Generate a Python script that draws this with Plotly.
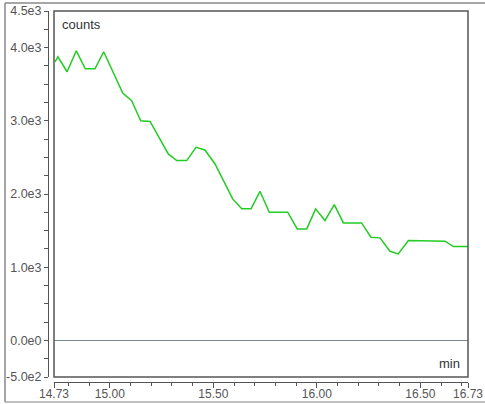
import plotly.graph_objects as go

times = [14.735, 14.749, 14.793, 14.838, 14.881, 14.928, 14.970, 15.015, 15.062, 15.105,
         15.149, 15.194, 15.237, 15.282, 15.323, 15.371, 15.416, 15.459, 15.508, 15.551,
         15.593, 15.637, 15.682, 15.725, 15.770, 15.815, 15.859, 15.905, 15.951, 15.994,
         16.039, 16.084, 16.128, 16.172, 16.216, 16.261, 16.305, 16.353, 16.393, 16.442,
         16.484, 16.527, 16.575, 16.619, 16.659, 16.701, 16.730]
counts = [3806, 3875, 3670, 3956, 3711, 3711, 3943, 3660, 3379, 3274,
          3001, 2992, 2770, 2547, 2456, 2456, 2637, 2601, 2410, 2170,
          1933, 1797, 1797, 2037, 1751, 1751, 1751, 1523, 1523, 1797,
          1637, 1855, 1605, 1605, 1605, 1410, 1401, 1218, 1182, 1364,
          1364, 1364, 1360, 1355, 1282, 1282, 1282]

x_tickvals = [14.73, 15.00, 15.50, 16.00, 16.50, 16.73]
x_ticktext = ["14.73", "15.00", "15.50", "16.00", "16.50", "16.73"]
y_tickvals = [4500, 4000, 3000, 2000, 1000, 0, -500]
y_ticktext = ["4.5e3", "4.0e3", "3.0e3", "2.0e3", "1.0e3", "0.0e0", "-5.0e2"]

W, H = 485, 404
ml, mr, mt, mb = 48, 17, 11, 22
pw = W - ml - mr
ph = H - mt - mb

fig = go.Figure()
fig.add_trace(go.Scatter(x=times, y=counts, mode="lines",
                         line=dict(color="#22cc22", width=1.5),
                         hoverinfo="skip", showlegend=False))

axfont = dict(family="Liberation Sans, Arial, sans-serif", size=12.5, color="#555555")
xfont = dict(family="Liberation Sans, Arial, sans-serif", size=12, color="#555555")

fig.update_layout(
    width=W, height=H,
    margin=dict(l=ml, r=mr, t=mt, b=mb, autoexpand=False),
    paper_bgcolor="white", plot_bgcolor="white",
    showlegend=False,
    xaxis=dict(domain=[6 / pw, 1], range=[14.73, 16.73], anchor="free", position=0,
               automargin=False,
               showgrid=False, zeroline=False, showline=True, linecolor="#555555",
               linewidth=1, ticks="outside", ticklen=5, tickcolor="#555555",
               tickvals=x_tickvals, ticktext=x_ticktext, tickfont=xfont,
               ticklabelstandoff=-4,
               minor=dict(ticks="outside", ticklen=3, tick0=14.8, dtick=0.1,
                          tickcolor="#555555", showgrid=False)),
    yaxis=dict(domain=[5 / ph, 1], range=[-500, 4500], anchor="free", position=0,
               automargin=False,
               showgrid=False, zeroline=True, zerolinecolor="#7a8898", zerolinewidth=1,
               showline=True, linecolor="#555555", linewidth=1,
               ticks="outside", ticklen=4, tickcolor="#555555",
               tickvals=y_tickvals, ticktext=y_ticktext, tickfont=axfont,
               minor=dict(ticks="outside", ticklen=4, tick0=0, dtick=250,
                          tickcolor="#555555", showgrid=False)),
    shapes=[
        dict(type="rect", xref="x domain", yref="y domain", x0=0, x1=1, y0=0, y1=1,
             line=dict(color="#555555", width=1.5), layer="above"),
        dict(type="line", xref="paper", yref="paper", x0=-(ml - 5) / pw, x1=1 + mr / pw,
             y0=1 + (mt - 3) / ph, y1=1 + (mt - 3) / ph,
             line=dict(color="#888888", width=1.5)),
        dict(type="line", xref="paper", yref="paper", x0=-(ml - 5) / pw, x1=-(ml - 5) / pw,
             y0=1 + (mt - 3) / ph, y1=-(mb - 2) / ph,
             line=dict(color="#888888", width=1.5)),
        dict(type="line", xref="paper", yref="paper", x0=-(ml - 5) / pw, x1=1 + mr / pw,
             y0=-(mb - 2) / ph, y1=-(mb - 2) / ph,
             line=dict(color="#aaaaaa", width=1.5)),
    ],
    annotations=[
        dict(text="counts", xref="x domain", yref="y domain", x=0.015, y=0.99,
             xanchor="left", yanchor="top", showarrow=False,
             font=dict(family="Liberation Sans, Arial, sans-serif", size=13, color="#333333")),
        dict(text="min", xref="x domain", yref="y domain", x=0.985, y=0.01,
             xanchor="right", yanchor="bottom", showarrow=False,
             font=dict(family="Liberation Sans, Arial, sans-serif", size=13, color="#333333")),
    ],
)

fig.write_html("out.html",
               config={"displayModeBar": False},
               post_script="document.body.style.margin='0';document.body.style.padding='0';")
